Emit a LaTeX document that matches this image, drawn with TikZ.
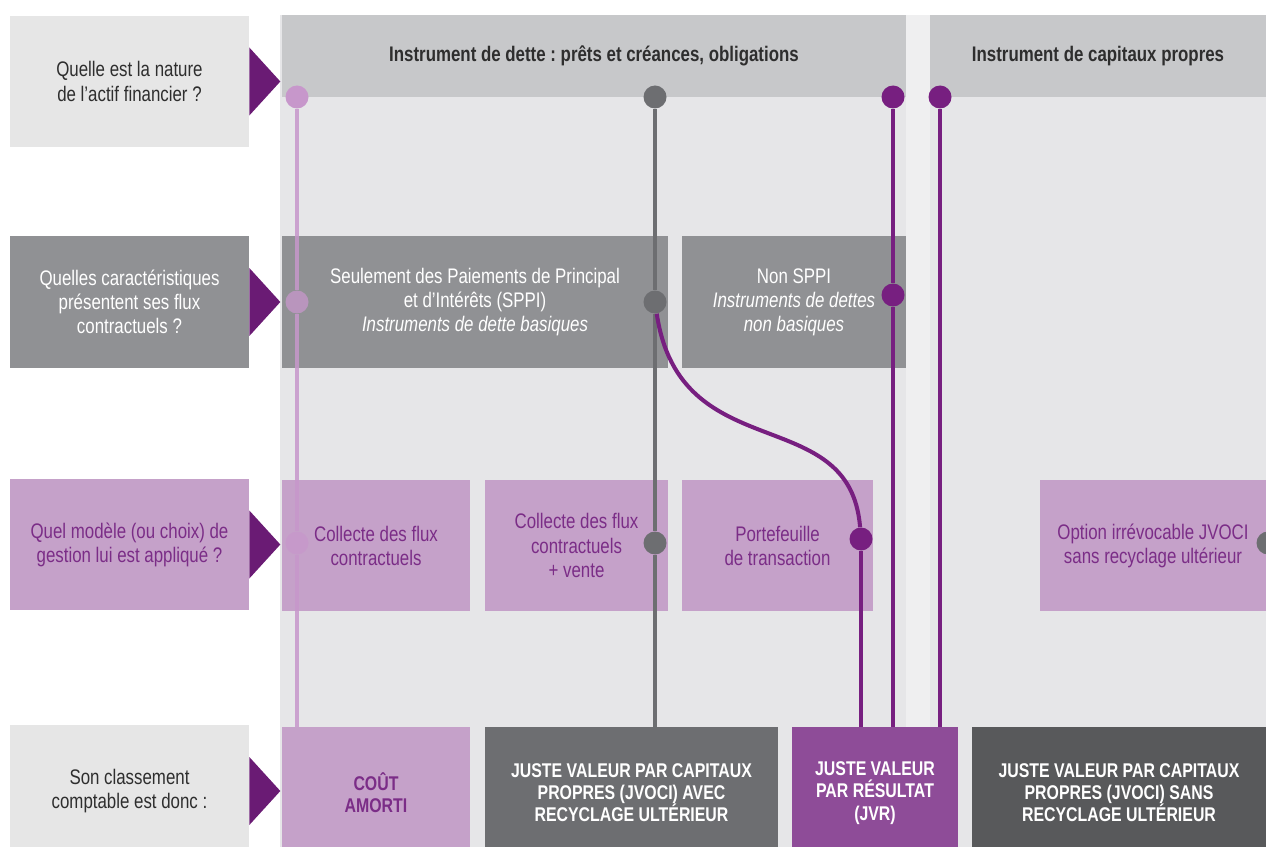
\documentclass[tikz,border=0pt]{standalone}
\usepackage{fontspec}
\setmainfont{Liberation Sans}[FakeStretch=0.8]
\usetikzlibrary{positioning}
\frenchspacing

\definecolor{colbg}{HTML}{E6E6E8}
\definecolor{colgap}{HTML}{EFEFF0}
\definecolor{lightbox}{HTML}{E6E6E6}
\definecolor{hdrgray}{HTML}{C7C8CA}
\definecolor{midgray}{HTML}{909194}
\definecolor{pinkbox}{HTML}{C5A1C9}
\definecolor{pinktext}{HTML}{7B2D87}
\definecolor{darktext}{HTML}{2E2E2E}
\definecolor{jvgray}{HTML}{6D6E71}
\definecolor{jvdark}{HTML}{58595B}
\definecolor{jvpurple}{HTML}{8E4C98}
\definecolor{arrowpurple}{HTML}{6A1B74}
\definecolor{pinkline}{HTML}{C797CB}
\definecolor{grayline}{HTML}{6D6E71}
\definecolor{purpleline}{HTML}{771F80}

\tikzset{
  box/.style={inner sep=0pt, align=center, font=\fontsize{12}{13.7}\selectfont},
  question/.style={box, minimum width=4.78cm, minimum height=2.64cm},
  header/.style={box, fill=hdrgray, text=darktext, minimum height=1.64cm,
    font=\fontsize{12}{13.7}\selectfont\bfseries},
  spbox/.style={box, fill=midgray, text=white, minimum height=2.64cm},
  mgbox/.style={box, fill=pinkbox, text=pinktext, minimum height=2.62cm},
  result/.style={box, minimum height=2.64cm, font=\fontsize{11.3}{12.6}\selectfont\bfseries},
  dot/.style={circle, fill, inner sep=0pt, minimum size=0.46cm},
  conn/.style={line width=2.3pt},
  tri/.style={fill=arrowpurple}
}

\begin{document}
\begin{tikzpicture}[x=0.02cm, y=-0.02cm]
\useasboundingbox (0,0) rectangle (1266,847);
\clip (0,0) rectangle (1266,847);
% columns
\fill[colbg] (280,15) rectangle (1266,847);
\fill[colgap] (906,15) rectangle (930,847);

% questions
\node[question, fill=lightbox, text=darktext] (q1) at (129.5,81.5) {Quelle est la nature\\de l'actif financier ?};
\node[question, fill=midgray, text=white] (q2) at (129.5,302) {Quelles caractéristiques\\présentent ses flux\\contractuels ?};
\node[question, fill=pinkbox, text=pinktext] (q3) at (129.5,544.5) {Quel modèle (ou choix) de\\gestion lui est appliqué ?};
\node[question, fill=lightbox, text=darktext] (q4) at (129.5,791) {Son classement\\comptable est donc :};
\foreach \q in {q1,q2,q3,q4}
  \fill[tri] (\q.east) ++(0,-34) -- ++(31,34) -- ++(-31,34) -- cycle;

% headers
\node[header, minimum width=12.48cm] (h1) at (594,56) {Instrument de dette : prêts et créances, obligations};
\node[header, minimum width=6.72cm] (h2) at (1098,56) {Instrument de capitaux propres};

% flux
\node[spbox, minimum width=7.72cm] (sppi) at (475,302) {Seulement des Paiements de Principal\\et d'Intérêts (SPPI)\\\textit{Instruments de dette basiques}};
\node[spbox, minimum width=4.48cm] (nsppi) at (794,302) {Non SPPI\\\textit{Instruments de dettes}\\\textit{non basiques}};

% gestion
\node[mgbox, minimum width=3.76cm] (m1) at (376,545.5) {Collecte des flux\\contractuels};
\node[mgbox, minimum width=3.66cm] (m2) at (576.5,545.5) {Collecte des flux\\contractuels\\+ vente};
\node[mgbox, minimum width=3.82cm] (m3) at (777.5,545.5) {Portefeuille\\de transaction};
\node[mgbox, minimum width=4.52cm] (m4) at (1153,545.5) {Option irrévocable JVOCI\\sans recyclage ultérieur};

% classement
\node[result, fill=pinkbox, text=pinktext, minimum width=3.76cm] (r1) at (376,793) {COÛT\\AMORTI};
\node[result, fill=jvgray, text=white, minimum width=5.86cm] (r2) at (631.5,793) {JUSTE VALEUR PAR CAPITAUX\\PROPRES (JVOCI) AVEC\\RECYCLAGE ULTÉRIEUR};
\node[result, fill=jvpurple, text=white, minimum width=3.32cm] (r3) at (875,793) {JUSTE VALEUR\\PAR RÉSULTAT\\(JVR)};
\node[result, fill=jvdark, text=white, minimum width=5.88cm] (r4) at (1119,793) {JUSTE VALEUR PAR CAPITAUX\\PROPRES (JVOCI) SANS\\RECYCLAGE ULTÉRIEUR};

% dots
\node[dot, pinkline] (p1) at (297,97) {};
\node[dot, pinkline, opacity=.75] (p2) at (297,302) {};
\node[dot, pinkline, opacity=.75] (p3) at (297,543) {};
\node[dot, grayline] (g1) at (655,97) {};
\node[dot, grayline] (g2) at (655,302) {};
\node[dot, grayline] (g3) at (655,543) {};
\node[dot, purpleline] (v1) at (893,97) {};
\node[dot, purpleline] (v2) at (893,295) {};
\node[dot, purpleline] (v3) at (861,539) {};
\node[dot, purpleline] (v4) at (940,97) {};
\node[dot, grayline] (gr) at (1268,543) {};

% paths
\draw[conn, pinkline, opacity=.85] (p1) -- (p2) -- (p3) -- (p1 |- r1.north);
\draw[conn, grayline] (g1) -- (g2) -- (g3) -- (g1 |- r2.north);
\draw[conn, purpleline] (g2) .. controls (680,470) and (850,400) .. (v3);
\draw[conn, purpleline] (v3) -- (v3 |- r3.north);
\draw[conn, purpleline] (v1) -- (v2) -- (v1 |- r3.north);
\draw[conn, purpleline] (v4) -- (v4 |- r3.north);
\end{tikzpicture}
\end{document}
